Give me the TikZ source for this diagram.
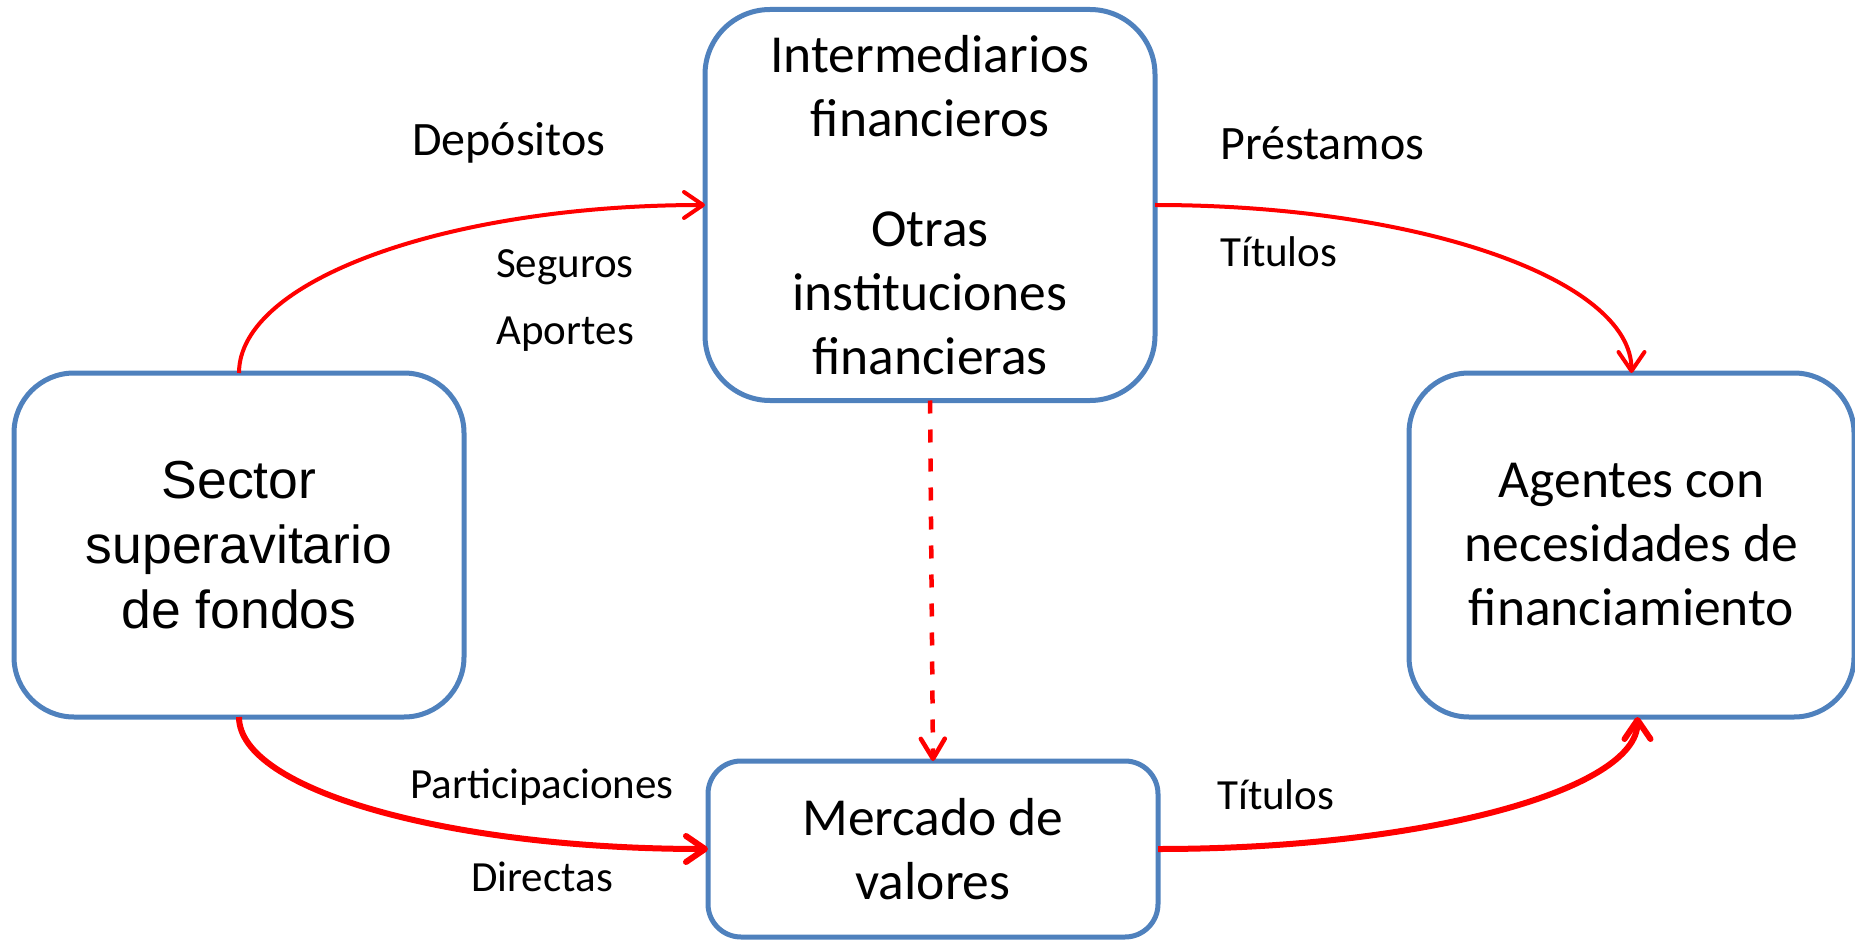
\documentclass[tikz,border=0pt]{standalone}
\usepackage{fontspec}
\setmainfont{Carlito}
\newfontfamily\arialf{Liberation Sans}
\usetikzlibrary{arrows.meta}
\definecolor{boxblue}{HTML}{4F81BD}
\definecolor{flowred}{HTML}{FF0000}
\tikzset{
  box/.style={draw=boxblue, line width=5pt, fill=white, outer sep=0pt, inner sep=0pt, align=center},
  boxtext/.style={font=\fontsize{53.5}{64}\selectfont},
  lbl/.style={inner sep=0pt, font=\fontsize{43}{52}\selectfont},
  lblbig/.style={inner sep=0pt, font=\fontsize{48}{58}\selectfont},
  flow/.style={draw=flowred, line width=4pt, -{Straight Barb[length=19pt,width=26pt,round]}},
  flowthick/.style={draw=flowred, line width=6pt, -{Straight Barb[length=19pt,width=26pt,round]}},
  flowdash/.style={draw=flowred, line width=4.5pt, dash pattern=on 13pt off 16pt, -{Straight Barb[length=20pt,width=24pt,round]}}
}
\begin{document}
\begin{tikzpicture}[x=1pt,y=-1pt]
\useasboundingbox (0,0) rectangle (1855,941);
% boxes
\node[box, boxtext, minimum width=450pt, minimum height=391pt, rounded corners=65pt] (inter) at (930,205)
  {Intermediarios\\financieros\\[46pt]Otras\\instituciones\\financieras};
\node[box, font=\arialf\fontsize{53.5}{65}\selectfont, minimum width=450pt, minimum height=344pt, rounded corners=60pt] (sector) at (239,545)
  {Sector\\superavitario\\de fondos};
\node[box, boxtext, minimum width=445pt, minimum height=344pt, rounded corners=60pt] (agentes) at (1631.5,545)
  {Agentes con\\necesidades de\\financiamiento};
\node[box, boxtext, minimum width=450pt, minimum height=176pt, rounded corners=33pt] (mercado) at (933,849)
  {Mercado de\\valores};
% labels
\node[lblbig] (ldep) at (509,143) {Depósitos};
\node[lbl, anchor=east] (lseg) at (634,267) {Seguros};
\node[lbl, anchor=east] (lapo) at (634,334) {Aportes};
\node[lblbig, anchor=west] (lpre) at (1220,143) {Préstamos};
\node[lbl, anchor=west] (ltit1) at (1220,252) {Títulos};
\node[lbl] (lpar) at (542,787) {Participaciones};
\node[lbl] (ldir) at (542,877) {Directas};
\node[lbl, anchor=west] (ltit2) at (1217,795) {Títulos};
% connectors
\draw[flow] (sector.north) .. controls +(0,-93) and +(-257,0) .. (inter.west);
\draw[flow] (inter.east) .. controls +(265,0) and +(0,-93) .. (agentes.north);
\draw[flowthick] (sector.south) .. controls +(0,73) and +(-259,0) .. (mercado.west);
\draw[flowthick] (mercado.east) .. controls +(265,0) and +(0,73) .. ([xshift=6pt]agentes.south);
\draw[flowdash] (inter.south) -- (mercado.north);
\end{tikzpicture}
\end{document}
